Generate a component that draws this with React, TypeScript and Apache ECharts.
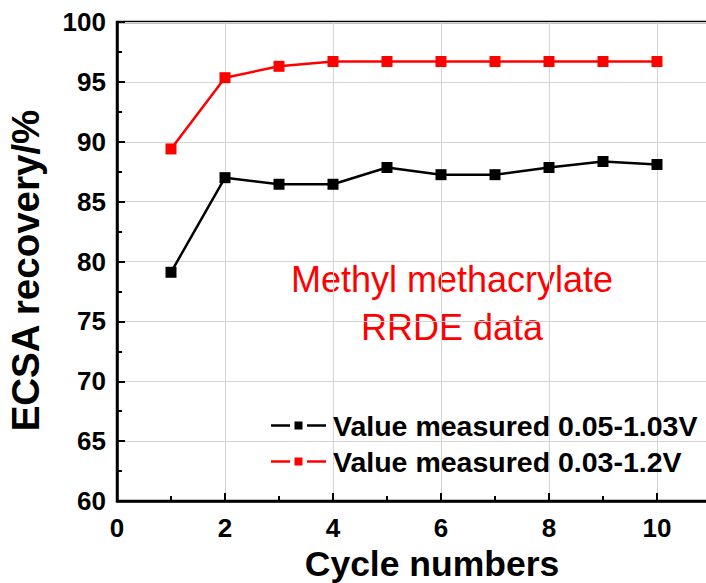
import React, { useEffect, useRef } from "react";
import * as echarts from "echarts";

const cycles = [1, 2, 3, 4, 5, 6, 7, 8, 9, 10];
const series1Name = "Value measured 0.05-1.03V";
const series2Name = "Value measured 0.03-1.2V";
const series1Values = [79.1, 87.0, 86.45, 86.45, 87.85, 87.25, 87.25, 87.85, 88.35, 88.1];
const series2Values = [89.4, 95.35, 96.3, 96.7, 96.7, 96.7, 96.7, 96.7, 96.7, 96.7];
const annotationLines = ["Methyl methacrylate", "RRDE data"];
const xTitle = "Cycle numbers";
const yTitle = "ECSA recovery/%";

const FONT = '"Liberation Sans", Arial, Helvetica, sans-serif';
// legend icon: short line, square marker, short line (gapped)
const LEGEND_ICON =
  "path://M0,4.2L19,4.2L19,6.8L0,6.8Z M23.5,1.5L31.5,1.5L31.5,9.5L23.5,9.5Z M36,4.2L55,4.2L55,6.8L36,6.8Z";

export default function App() {
  const ref = useRef<HTMLDivElement>(null);
  useEffect(() => {
    if (!ref.current) return;
    const chart = echarts.init(ref.current, null, { renderer: "svg" });
    const toPairs = (vals: number[]) => cycles.map((c, i) => [c, vals[i]]);
    chart.setOption({
      animation: false,
      backgroundColor: "#ffffff",
      textStyle: { fontFamily: FONT },
      grid: {
        left: 117,
        top: 22,
        right: -5,
        bottom: 82,
        containLabel: false,
        outerBoundsMode: "none",
        show: true,
        borderColor: "#000",
        borderWidth: 2.5,
        backgroundColor: "transparent",
      },
      legend: {
        orient: "vertical",
        left: 266,
        top: 406,
        itemWidth: 55,
        itemHeight: 11,
        itemGap: 7,
        textStyle: {
          fontFamily: FONT,
          fontSize: 28.5,
          fontWeight: "bold",
          color: "#000",
          padding: [0, 0, 0, 2],
        },
        data: [
          { name: series1Name, icon: LEGEND_ICON },
          { name: series2Name, icon: LEGEND_ICON },
        ],
      },
      xAxis: [
        {
          type: "value",
          min: 0,
          max: 11,
          interval: 2,
          position: "bottom",
          name: xTitle,
          nameLocation: "middle",
          nameGap: 41,
          nameTextStyle: {
            fontFamily: FONT,
            fontSize: 35.5,
            lineHeight: 36,
            fontWeight: "bold",
            color: "#000",
            padding: [0, 0, 0, 36],
          },
          axisLine: { show: true, lineStyle: { color: "#000", width: 2.5 } },
          axisTick: { show: true, inside: true, length: 8, lineStyle: { color: "#000", width: 2 } },
          axisLabel: {
            fontFamily: FONT,
            fontSize: 26,
            fontWeight: "bold",
            color: "#000",
            margin: 14,
            formatter: (v: number) => (v === 11 ? "" : String(v)),
          },
          splitLine: { show: true, lineStyle: { color: "#d4d4d4", width: 1 } },
        },
        {
          type: "value",
          min: 0,
          max: 11,
          interval: 1,
          position: "bottom",
          axisLine: { show: false },
          axisTick: { show: true, inside: true, length: 5, lineStyle: { color: "#000", width: 2 } },
          axisLabel: { show: false },
          splitLine: { show: false },
        },
      ],
      yAxis: {
        type: "value",
        min: 60,
        max: 100,
        interval: 5,
        name: yTitle,
        nameLocation: "middle",
        nameGap: 72,
        nameTextStyle: {
          fontFamily: FONT,
          fontSize: 38.5,
          fontWeight: "bold",
          color: "#000",
          padding: [0, 18, 0, 0],
        },
        axisLine: { show: true, lineStyle: { color: "#000", width: 2.5 } },
        axisTick: { show: true, inside: true, length: 8, lineStyle: { color: "#000", width: 2 } },
        minorTick: { show: true, splitNumber: 2, length: 5, lineStyle: { color: "#000", width: 2 } },
        axisLabel: { fontFamily: FONT, fontSize: 26, fontWeight: "bold", color: "#000", margin: 11 },
        splitLine: { show: true, lineStyle: { color: "#d4d4d4", width: 1 } },
      },
      graphic: [
        {
          type: "text",
          x: 452,
          y: 279,
          style: {
            text: annotationLines[0],
            fill: "#ff0000",
            font: `36px ${FONT}`,
            textAlign: "center",
            textVerticalAlign: "middle",
          },
        },
        {
          type: "text",
          x: 452,
          y: 327,
          style: {
            text: annotationLines[1],
            fill: "#ff0000",
            font: `36px ${FONT}`,
            textAlign: "center",
            textVerticalAlign: "middle",
          },
        },
      ],
      series: [
        {
          name: series1Name,
          type: "line",
          data: toPairs(series1Values),
          symbol: "rect",
          symbolSize: 11,
          itemStyle: { color: "#000000" },
          lineStyle: { color: "#000000", width: 2.5 },
          z: 3,
        },
        {
          name: series2Name,
          type: "line",
          data: toPairs(series2Values),
          symbol: "rect",
          symbolSize: 11,
          itemStyle: { color: "#ff0000" },
          lineStyle: { color: "#ff0000", width: 2.5 },
          z: 3,
        },
      ],
    });
    return () => chart.dispose();
  }, []);
  return (
    <div
      ref={ref}
      style={{ position: "fixed", left: 0, top: 0, width: 706, height: 583, background: "#fff" }}
    />
  );
}
